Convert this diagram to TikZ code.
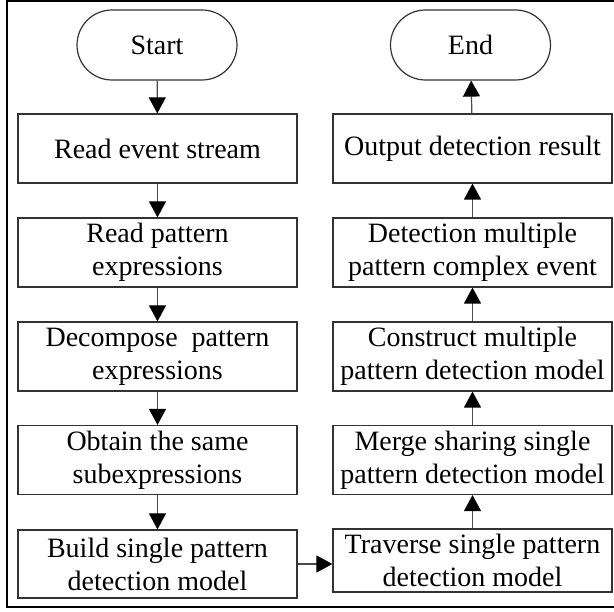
\documentclass[tikz,border=0pt]{standalone}
\usepackage{fontspec}
\setmainfont{Liberation Serif}
\usetikzlibrary{arrows.meta,shapes.misc}
\definecolor{boxgray}{HTML}{333333}
\definecolor{linegray}{HTML}{4A4A4A}
\tikzset{
  stepbox/.style={draw=boxgray, line width=1.2pt, minimum width=279pt,
    minimum height=69pt, align=center, inner sep=0pt,
    font=\fontsize{28}{33}\selectfont},
  termbox/.style={draw=boxgray, line width=1.2pt, rounded rectangle,
    minimum width=160pt, minimum height=70pt, inner sep=0pt,
    font=\fontsize{28}{33}\selectfont},
  flow/.style={draw=linegray, line width=1.2pt,
    -{Triangle[length=16pt,width=17pt,color=black]}},
  frame/.style={draw=black, line width=2.6pt}
}
\begin{document}
\begin{tikzpicture}[x=1pt,y=-1pt]
\clip (0,0) rectangle (614,612);
% outer frame (open to the right)
\draw[frame] (630,1) -- (7,1) -- (7,607) -- (630,607);

% left column
\node[termbox] (start) at (157,45) {Start};
\node[stepbox] (read)  at (157.5,148.5) {Read event stream};
\node[stepbox] (rpat)  at (157.5,252.5) {Read pattern\\expressions};
\node[stepbox] (dec)   at (157.5,356.5) {Decompose\ \ pattern\\expressions};
\node[stepbox] (obt)   at (157.5,460)   {Obtain the same\\subexpressions};
\node[stepbox, minimum height=68pt] (build) at (157.5,564) {Build single pattern\\detection model};

% right column
\node[termbox] (end)   at (470.5,45) {End};
\node[stepbox] (out)   at (472.5,148.5) {Output detection result};
\node[stepbox] (det)   at (472.5,252.5) {Detection multiple\\pattern complex event};
\node[stepbox] (cons)  at (472.5,356.5) {Construct multiple\\pattern detection model};
\node[stepbox] (merge) at (472.5,460)   {Merge sharing single\\pattern detection model};
\node[stepbox, minimum height=63pt] (trav) at (472.5,560.5) {Traverse single pattern\\detection model};

% connectors
\draw[flow] (start) -- (read);
\draw[flow] (read) -- (rpat);
\draw[flow] (rpat) -- (dec);
\draw[flow] (dec) -- (obt);
\draw[flow] (obt) -- (build);
\draw[flow] (build.east) -- (build.east -| trav.west);
\draw[flow] (trav) -- (merge);
\draw[flow] (merge) -- (cons);
\draw[flow] (cons) -- (det);
\draw[flow] (det) -- (out);
\draw[flow] (out) -- (end);
\end{tikzpicture}
\end{document}
